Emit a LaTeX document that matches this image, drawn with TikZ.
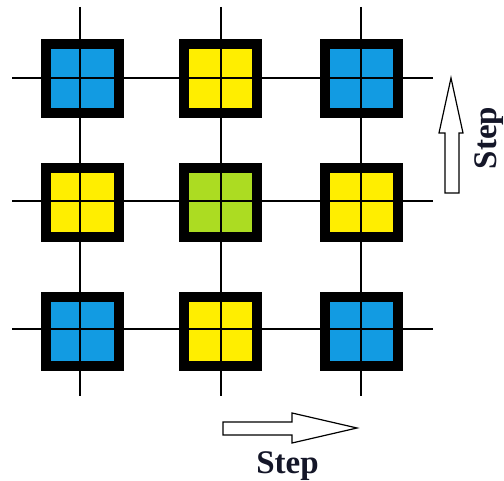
\documentclass[tikz,border=0pt]{standalone}
\usepackage{fontspec}
\setmainfont{Liberation Serif}
\definecolor{cblue}{RGB}{18,155,226}
\definecolor{cyellow}{RGB}{255,238,0}
\definecolor{cgreen}{RGB}{172,220,34}
\definecolor{ctext}{RGB}{20,22,40}
\begin{document}
\begin{tikzpicture}[x=1pt,y=-1pt,
  cell/.style={draw=black,line width=10pt,minimum width=73pt,minimum height=69pt,inner sep=0pt,outer sep=0pt},
  gridline/.style={draw=black,line width=1.6pt},
  blockarrow/.style={draw=black,fill=white,line width=1.2pt,line join=miter},
  steplabel/.style={font=\bfseries\fontsize{33}{38}\selectfont,text=ctext,inner sep=0pt}]
\useasboundingbox (0,0) rectangle (504,481);
% cells
\node[cell,fill=cblue]   (c11) at (82,79)  {};
\node[cell,fill=cyellow] (c12) at (220,79)  {};
\node[cell,fill=cblue]   (c13) at (361,79)  {};
\node[cell,fill=cyellow] (c21) at (82,203) {};
\node[cell,fill=cgreen]  (c22) at (220,203) {};
\node[cell,fill=cyellow] (c23) at (361,203) {};
\node[cell,fill=cblue]   (c31) at (82,332) {};
\node[cell,fill=cyellow] (c32) at (220,332) {};
\node[cell,fill=cblue]   (c33) at (361,332) {};
% grid lines
\foreach \x in {80,221,361} \draw[gridline] (\x,7) -- (\x,396);
\foreach \y in {78,201,329} \draw[gridline] (12,\y) -- (433,\y);
% vertical block arrow
\draw[blockarrow] (445,193) -- (459,193) -- (459,133) -- (463,133) -- (451,78) -- (439,133) -- (445,133) -- cycle;
% horizontal block arrow
\draw[blockarrow] (223,422) -- (292,422) -- (292,413) -- (357,428) -- (292,443) -- (292,435) -- (223,435) -- cycle;
% labels
\node[steplabel,anchor=base] (hstep) at (287.5,473) {Step};
\node[steplabel,anchor=base,rotate=90] (vstep) at (496.5,138) {Step};
\end{tikzpicture}
\end{document}
